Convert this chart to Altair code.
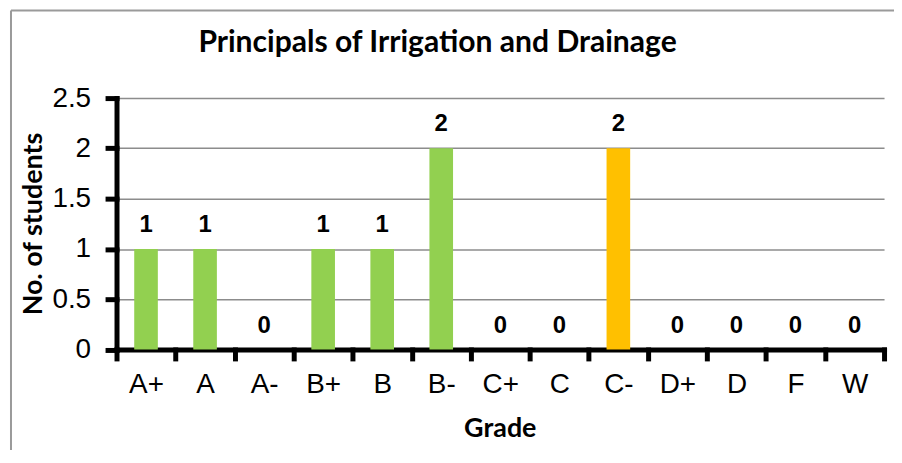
import altair as alt
import pandas as pd

grades = ["A+", "A", "A-", "B+", "B", "B-", "C+", "C", "C-", "D+", "D", "F", "W"]
students = [1, 1, 0, 1, 1, 2, 0, 0, 2, 0, 0, 0, 0]
groups = ["Other"] * 8 + ["Highlighted"] + ["Other"] * 4
y_ticks = [0, 0.5, 1, 1.5, 2, 2.5]

df = pd.DataFrame({"Grade": grades, "Students": students, "Group": groups})

x_enc = alt.X(
    "Grade:N",
    sort=grades,
    scale=alt.Scale(paddingInner=0, paddingOuter=0, round=False),
    axis=alt.Axis(
        title="Grade",
        labelAngle=0,
        tickBand="extent",
        labelFont="Liberation Sans",
        labelFontSize=28,
        labelColor="black",
        labelPadding=12,
        tickSize=9,
        titleFont="Lato",
        titleFontWeight="bold",
        titleFontSize=27,
        titleColor="black",
        titleX=385,
        titleY=87,
        titleBaseline="alphabetic",
        grid=False,
    ),
)

y_enc = alt.Y(
    "Students:Q",
    scale=alt.Scale(domain=[0, 2.5], nice=False),
    axis=alt.Axis(
        title="No. of students",
        values=y_ticks,
        format="~g",
        labelFont="Liberation Sans",
        labelFontSize=28,
        labelColor="black",
        labelPadding=17,
        tickSize=9,
        grid=True,
        gridColor="#8c8c8c",
        gridWidth=1.5,
        titleFont="Lato",
        titleFontWeight="bold",
        titleFontSize=27,
        titleColor="black",
        titleX=-83,
        titleY=126,
        titleBaseline="middle",
        titleAlign="center",
    ),
)

bars = alt.Chart(df).mark_bar(width=alt.RelativeBandSize(0.4)).encode(
    x=x_enc,
    y=y_enc,
    color=alt.Color(
        "Group:N",
        scale=alt.Scale(domain=["Other", "Highlighted"], range=["#92D050", "#FFC000"]),
        legend=None,
    ),
)

labels = alt.Chart(df).mark_text(
    dy=-17,
    baseline="alphabetic",
    font="Liberation Sans",
    fontWeight="bold",
    fontSize=24,
    color="black",
).encode(x=x_enc, y=y_enc, text="Students:Q")

frame_data = alt.Data(values=[{"f": 1}])
frame_left = alt.Chart(frame_data).mark_rule(color="#9a9a9a", strokeWidth=2).encode(
    x=alt.value(-106), y=alt.value(-88), y2=alt.value(360)
)
frame_top = alt.Chart(frame_data).mark_rule(color="#9a9a9a", strokeWidth=2).encode(
    x=alt.value(-106), x2=alt.value(800), y=alt.value(-88)
)

chart = (
    alt.layer(bars, labels, frame_left, frame_top)
    .properties(
        width=771,
        height=252.5,
        padding={"left": 109, "top": 89.5, "right": 10, "bottom": 100},
        autosize="none",
        title=alt.TitleParams(
            "Principals of Irrigation and Drainage",
            font="Lato",
            fontWeight="bold",
            fontSize=30.2,
            color="black",
            anchor="middle",
            frame="group",
            dx=-63,
            dy=73,
            offset=0,
            baseline="alphabetic",
        ),
    )
    .configure_view(strokeWidth=0)
    .configure_axis(
        domainColor="black",
        domainWidth=5,
        domainCap="square",
        tickColor="black",
        tickWidth=5,
        tickCap="square",
    )
)

chart.save("out.html", embed_options={"renderer": "svg", "actions": False})
